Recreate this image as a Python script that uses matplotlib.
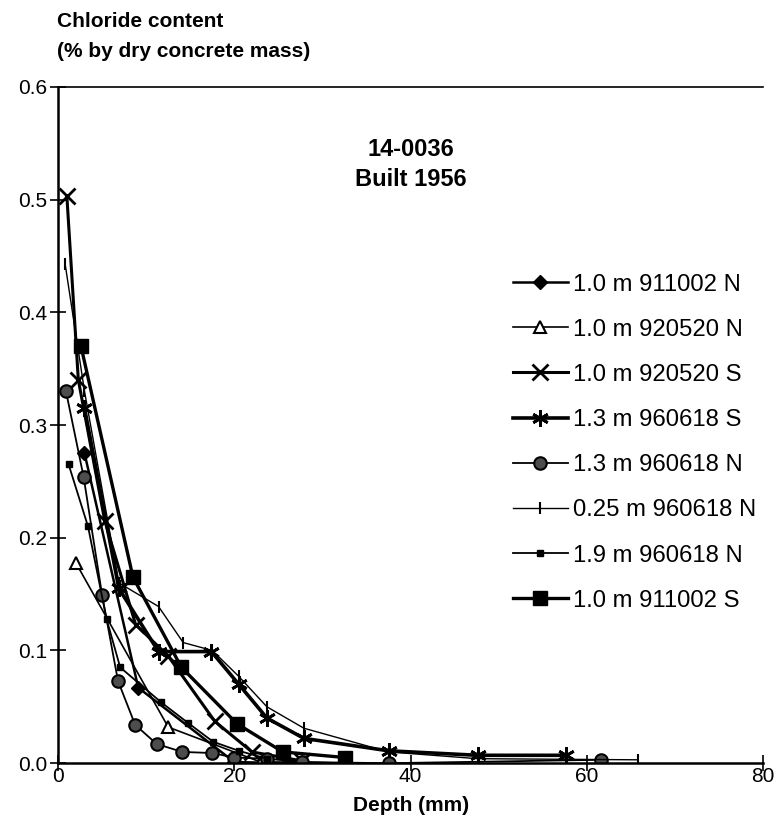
import matplotlib.pyplot as plt

plt.rcParams['font.family'] = ['Liberation Sans', 'DejaVu Sans']

# Depth (mm) and chloride content (% by dry concrete mass) for each core
d_911002_n = [3, 9.1, 20, 26.1]
c_911002_n = [0.275, 0.067, 0.001, 0.0]

d_920520_n = [2, 12.5, 23, 27.7, 32.6]
c_920520_n = [0.178, 0.032, 0.001, 0.001, 0.0]

d_920520_s = [1, 2.3, 5.3, 8.8, 12.5, 17.8, 22, 27.7]
c_920520_s = [0.503, 0.34, 0.215, 0.123, 0.095, 0.037, 0.01, 0.002]

d_960618_s13 = [3, 6.9, 11.4, 17.4, 20.5, 23.7, 27.9, 37.5, 47.6, 57.6]
c_960618_s13 = [0.315, 0.155, 0.099, 0.099, 0.07, 0.04, 0.022, 0.011, 0.007, 0.007]

d_960618_n13 = [0.9, 2.9, 5, 6.8, 8.75, 11.2, 14.1, 17.5, 20, 23.7, 27.7, 37.5, 61.6]
c_960618_n13 = [0.33, 0.254, 0.149, 0.073, 0.034, 0.017, 0.01, 0.009, 0.005, 0.004, 0.001, 0.0, 0.003]

d_960618_n025 = [0.8, 3, 6.9, 11.4, 14.2, 17.5, 20.5, 23.7, 27.9, 37.5, 47.6, 65.8]
c_960618_n025 = [0.443, 0.33, 0.16, 0.139, 0.107, 0.1, 0.077, 0.05, 0.031, 0.01, 0.004, 0.003]

d_960618_n19 = [1.2, 3.4, 5.5, 7.05, 11.7, 14.7, 17.6, 20.5, 23.7]
c_960618_n19 = [0.265, 0.21, 0.128, 0.085, 0.054, 0.036, 0.019, 0.011, 0.004]

d_911002_s = [2.6, 8.5, 14, 20.3, 25.5, 32.6]
c_911002_s = [0.37, 0.165, 0.085, 0.035, 0.01, 0.005]

fig = plt.figure(figsize=(7.74, 8.35), dpi=100)
ax = fig.add_axes([0.075, 0.086, 0.911, 0.81])

ax.plot(d_911002_n, c_911002_n, color='black', lw=1.8, marker='D', ms=7,
        mfc='black', label='1.0 m 911002 N')
ax.plot(d_920520_n, c_920520_n, color='black', lw=1.2, marker='^', ms=9,
        mfc='white', mec='black', mew=1.5, label='1.0 m 920520 N')
ax.plot(d_920520_s, c_920520_s, color='black', lw=2.2, marker='x', ms=11,
        mew=2, label='1.0 m 920520 S')
ax.plot(d_960618_s13, c_960618_s13, color='black', lw=2.6, marker=(6, 2, 0),
        ms=12, mew=2, label='1.3 m 960618 S')
ax.plot(d_960618_n13, c_960618_n13, color='black', lw=1.3, marker='o', ms=9,
        mfc='0.3', mec='black', mew=1.5, label='1.3 m 960618 N')
ax.plot(d_960618_n025, c_960618_n025, color='black', lw=1.0, marker='|', ms=9,
        mew=1.5, label='0.25 m 960618 N')
ax.plot(d_960618_n19, c_960618_n19, color='black', lw=1.3, marker='s', ms=5,
        mfc='black', label='1.9 m 960618 N')
ax.plot(d_911002_s, c_911002_s, color='black', lw=2.4, marker='s', ms=10,
        mfc='black', label='1.0 m 911002 S')

ax.set_xlim(0, 80)
ax.set_ylim(0, 0.6)
ax.set_xticks([0, 20, 40, 60, 80])
ax.set_yticks([0.0, 0.1, 0.2, 0.3, 0.4, 0.5, 0.6])
ax.set_yticklabels(['0.0', '0.1', '0.2', '0.3', '0.4', '0.5', '0.6'])
ax.tick_params(direction='inout', length=12, width=1.2, labelsize=15)
ax.tick_params(axis='x', pad=-3)
ax.tick_params(axis='y', pad=2)
ax.spines['right'].set_visible(False)
for s in ['left', 'bottom']:
    ax.spines[s].set_linewidth(1.8)
ax.spines['top'].set_linewidth(1.2)

ax.set_xlabel('Depth (mm)', fontsize=15, fontweight='bold', labelpad=7)

fig.text(0.074, 0.974, 'Chloride content', fontsize=15, fontweight='bold',
         ha='left', va='center')
fig.text(0.074, 0.938, '(% by dry concrete mass)', fontsize=15, fontweight='bold',
         ha='left', va='center')

ax.text(0.5, 0.885, '14-0036\nBuilt 1956', transform=ax.transAxes, ha='center',
        va='center', fontsize=17, fontweight='bold', linespacing=1.4)

ax.legend(loc='upper left', bbox_to_anchor=(0.645, 0.724), frameon=False,
          fontsize=17.2, handlelength=2.3, handletextpad=0.2, labelspacing=0.97,
          borderaxespad=0, borderpad=0)

fig.savefig('out.png', dpi=100)
